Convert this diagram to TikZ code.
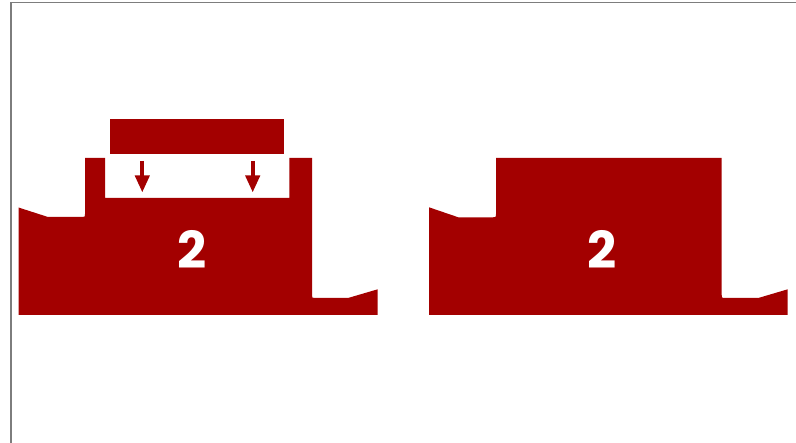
\documentclass[tikz,border=0pt]{standalone}
\usepackage{fontspec}
\setmainfont{Poppins}
\usetikzlibrary{arrows.meta}
\definecolor{blockred}{RGB}{163,0,0}
\definecolor{framegray}{RGB}{125,125,125}
\tikzset{
  block/.style={fill=blockred, draw=none},
  pusharrow/.style={draw=blockred, line width=4pt, -{Triangle[width=14pt,length=17pt]}},
  numlabel/.style={text=white, inner sep=0pt, font=\fontsize{51}{51}\selectfont\bfseries},
  frameline/.style={draw=framegray, line width=1.6pt}
}
\begin{document}
\begin{tikzpicture}[x=1pt,y=-1pt]
\useasboundingbox (0,0) rectangle (796,443);
% frame (left and top edges)
\draw[frameline] (11.2,443) -- (11.2,2.7) -- (796,2.7);
% left part with slot
\path[block] (18.5,315) -- (18.5,207.5) -- (48,217) -- (82,217) .. controls (85,217) .. (85,214)
  -- (85,158) -- (105,158) -- (105,198) -- (289.3,198) -- (289.3,158) -- (312,158)
  -- (312,295) .. controls (312,298) .. (315,298) -- (348,298) -- (377.7,289.3) -- (377.7,315) -- cycle;
% insert piece
\path[block] (110,119) rectangle (284,154.3);
% arrows
\coordinate (a1s) at (142.3,161);
\coordinate (a1e) at (142.3,192.5);
\coordinate (a2s) at (252.7,161);
\coordinate (a2e) at (252.7,192.5);
\draw[pusharrow] (a1s) -- (a1e);
\draw[pusharrow] (a2s) -- (a2e);
% right part assembled
\path[block] (429,315) -- (429,207.3) -- (458.3,217.3) -- (493,217.3) .. controls (496,217.3) .. (496,214.3)
  -- (496,158) -- (721.7,158)
  -- (721.7,295) .. controls (721.7,298) .. (724.7,298) -- (758.3,298) -- (787.7,289.3) -- (787.7,315) -- cycle;
\node[numlabel] (two) at (192,249) {2};
\node[numlabel] (twob) at (602.5,249) {2};
\end{tikzpicture}
\end{document}
